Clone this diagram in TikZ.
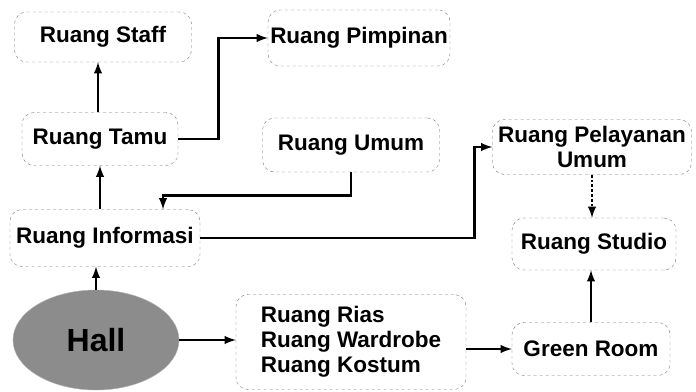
\documentclass[tikz,border=0pt]{standalone}
\usepackage{fontspec}
\setmainfont{Liberation Sans}
\usetikzlibrary{positioning, shapes.geometric, arrows, calc, patterns}

\begin{document}
\begin{tikzpicture}[x=1pt, y=-1pt,
  room/.style = {draw=black!55, dashed, thin, rounded corners=12pt, inner sep=2pt,
                 font=\bfseries\fontsize{22.5}{25}\selectfont},
  link/.style = {-latex, line width=2.8pt},
  ]
\useasboundingbox (0,0) rectangle (696,391);

% rooms, top row
\node[room, minimum width=177pt, minimum height=50pt] (staff)    at (103,37)  {Ruang Staff};
\node[room, minimum width=182pt, minimum height=56pt] (pimpinan) at (359,38)  {Ruang Pimpinan};

% second row
\node[room, minimum width=156pt, minimum height=53pt] (tamu)     at (100,139) {Ruang Tamu};
\node[room, minimum width=177pt, minimum height=54pt] (umum)     at (351,145) {Ruang Umum};
\node[room, minimum width=199pt, minimum height=55pt, align=center] (pelayanan) at (592,147) {Ruang Pelayanan\\Umum};

% third row
\node[room, minimum width=190pt, minimum height=57pt] (informasi) at (105,238) {Ruang Informasi};
\node[room, minimum width=164pt, minimum height=52pt] (studio)    at (594,244) {Ruang Studio};

% Hall - entrance
\node[ellipse, draw=gray!60, fill=black!45, minimum width=166pt, minimum height=100pt,
      font=\bfseries\fontsize{32}{34}\selectfont] (hall) at (96,340) {Hall};

% bottom row
\node[room, minimum width=230pt, minimum height=95pt, align=left] (rias) at (351,342)
  {Ruang Rias\\Ruang Wardrobe\\Ruang Kostum};
\node[room, minimum width=158pt, minimum height=53pt] (green) at (591,349) {Green Room};

%--- Hall -> Informasi -> Tamu -> Staff
\draw[link] (hall.north) -- (hall.north |- informasi.south);
\draw[link] (informasi.north -| tamu) -- (tamu.south);
\draw[link] ([xshift=-2pt]tamu.north) -- ([xshift=-2pt]tamu.north |- staff.south);

%--- Tamu -> Pimpinan
\draw[link] (tamu.east) -- ++(40,0) |- (pimpinan.west);

%--- Umum -> Informasi
\draw[link] (umum.south) -- ++(0,23) -| ([xshift=58pt]informasi.north);

%--- Informasi -> Pelayanan Umum
\draw[link] (informasi.east) -| ([xshift=-18pt]pelayanan.west) -- (pelayanan.west);

%--- Pelayanan Umum -> Studio (dotted)
\draw[link, dotted] (pelayanan.south) -- (pelayanan.south |- studio.north);

%--- Hall -> Rias -> Green Room -> Studio
\draw[link] (hall.east) -- (hall.east -| rias.west);
\draw[link] (rias.east |- green.west) -- (green.west);
\draw[link] (green.north) -- (green.north |- studio.south);

\end{tikzpicture}
\end{document}
